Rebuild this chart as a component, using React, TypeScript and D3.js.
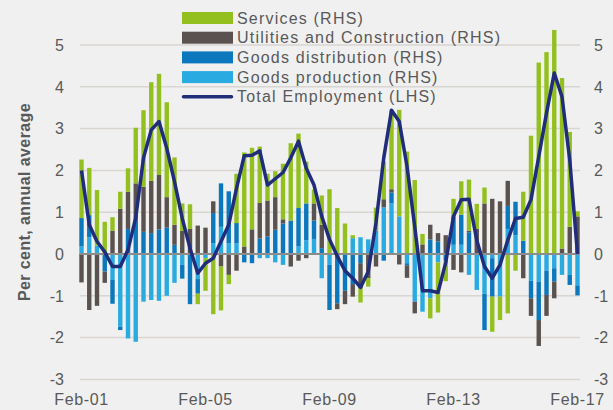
import { useEffect, useRef } from 'react';
import * as d3 from 'd3';

// quarterly, Feb-01 .. Feb-17
const years = d3.range(1, 18);
const months = ['Feb', 'May', 'Aug', 'Nov'];
const quarters: string[] = [];
years.forEach(y => months.forEach(m => quarters.push(`${m}-${String(y).padStart(2, '0')}`)));
quarters.splice(65);

const tickLabels = ['Feb-01', 'Feb-05', 'Feb-09', 'Feb-13', 'Feb-17'];
const yTicks = [-3, -2, -1, 0, 1, 2, 3, 4, 5];

const goodsProduction = [
  0.18, 0.4, 0.2, 0, -0.62, -1.74, -2.02, -2.1, -1.14, -1.1, -1.12, -1.0, -0.69, -0.26, 0, -0.6,
  -0.1, 0.26, 0.65, 0.26, 0.26, 0, 0, -0.1, -0.1, -0.2, -0.26, 0, 0.18, 0.33, 0.36, -0.58,
  -0.26, 0, 0, 0.38, 0.4, 0.35, 0.56, 1.12, 1.21, 0.9, -0.22, -1.14, -1.38, -1.06, -0.2, 0,
  0.22, 0.22, -0.5, -0.86, -0.95, -0.1, -1.02, 0.6, 0.45, 0, -0.64, -0.66, -0.4, -0.34, -0.5, -0.5,
  -0.75
];
const goodsDistribution = [
  0.68, 0.53, 0, -0.42, -0.57, -0.08, 0.6, 0.81, 0.53, 0.5, 0.59, 0.63, 0.22, -0.33, -1.2, -0.35,
  0, 0.72, 1.04, 1.24, 0.48, -0.2, -0.22, 0.37, 0.42, 0.58, 0.73, 0.8, 0.92, 0.88, 0.44, 0.14,
  -1.08, -1.18, -0.88, -0.72, -0.22, 0, 0, -0.16, 0.26, 0, -0.05, 0, 0, 0.35, 0.3, -0.15,
  0.68, 0.72, 0.52, 0, -0.87, -0.92, 0, 0.55, 0.8, 0.32, -0.42, -0.92, -0.58, -0.32, 0, -0.24,
  -0.24
];
const utilities = [
  -0.68, -1.34, -1.24, -0.27, 0.56, 1.08, 0.89, 0.88, 1.08, 1.25, 1.3, 0.73, 0.48, 0.55, 0.6, 0.68,
  0.63, 0.28, -0.3, -0.5, -0.4, 0.18, 0.59, 0.85, 0.86, 0.78, 0.1, -0.3, -0.16, -0.1, 0.41, 0.56,
  0, -0.14, -0.32, -0.3, -0.6, -0.58, -0.3, 0.19, 0.08, -0.25, -0.3, -0.28, 0.23, 0.35, 0.2, 0.45,
  -0.38, -0.44, 0.04, 0.6, 1.21, 1.32, 1.26, 0.6, 0, -0.58, -0.42, -0.62, -0.5, -0.4, 0.13, 0.65,
  0.9
];
const services = [
  1.4, 1.13, 1.33, 0.77, 0.32, 0.41, 0.56, 1.33, 1.83, 2.36, 2.42, 2.27, 1.61, 0.66, 0.59, -0.25,
  -0.78, -1.44, -1.05, -0.22, 1.18, 2.25, 1.95, 1.35, 0.64, 0.62, 1.33, 1.85, 1.78, 1.0, 0.33, 0.7,
  1.55, 1.1, 0.73, 0.07, -0.34, -0.2, 0.55, 0.9, 1.9, 2.55, 2.45, 1.77, 0.25, -0.48, -1.2, -0.5,
  0.42, 0.8, 1.22, 0.6, 0.38, -0.84, -0.56, -1.42, -0.4, 1.17, 2.83, 4.58, 4.83, 5.36, 4.08, 2.27,
  0.12
];
const totalEmployment = [
  2.0, 0.7, 0.3, 0.05, -0.3, -0.3, 0.1, 0.87, 2.3, 2.97, 3.17, 2.53, 1.73, 0.85, 0.14, -0.46,
  -0.22, -0.1, 0.3, 0.7, 1.57, 2.35, 2.36, 2.47, 1.65, 1.8, 1.95, 2.3, 2.7, 2.05, 1.65, 0.9,
  0.35, -0.05, -0.4, -0.58, -0.8, -0.42, 0.75, 2.3, 3.44, 3.17, 2.1, 0.65, -0.88, -0.88, -0.92, -0.2,
  0.9, 1.3, 1.31, 0.33, -0.3, -0.58, -0.26, 0.33, 0.85, 0.88, 1.3, 2.33, 3.37, 4.33, 3.76, 2.25,
  0
];

const seriesKeys = ['gp', 'gd', 'ut', 'sv'];
const seriesColors: Record<string, string> = {
  gp: '#29abe2',
  gd: '#0b77bd',
  ut: '#59524e',
  sv: '#93c01f'
};
const legendItems = [
  { label: 'Services (RHS)', key: 'sv' },
  { label: 'Utilities and Construction (RHS)', key: 'ut' },
  { label: 'Goods distribution (RHS)', key: 'gd' },
  { label: 'Goods production (RHS)', key: 'gp' },
  { label: 'Total Employment (LHS)', key: 'line' }
];

const W = 613;
const H = 410;
const LINE_COLOR = '#1f2d7b';
const TEXT = '#595959';
const FONT = '"Liberation Sans", Arial, sans-serif';

export default function App() {
  const svgRef = useRef<SVGSVGElement>(null);

  useEffect(() => {
    if (!svgRef.current) return;
    const svg = d3.select(svgRef.current);
    svg.selectAll('*').remove();

    svg.append('rect').attr('width', W).attr('height', H).attr('fill', '#f0f0f0');

    const x = d3.scalePoint<string>().domain(quarters).range([81.5, 577.5]);
    const y = d3.scaleLinear().domain([-3, 5]).range([379.4, 45]);
    const barW = 4.4;

    // gridlines
    svg.append('g')
      .selectAll('line')
      .data(yTicks.filter(t => t !== 0))
      .enter().append('line')
      .attr('x1', 80).attr('x2', 580)
      .attr('y1', d => y(d)).attr('y2', d => y(d))
      .attr('stroke', '#d9d5d1')
      .attr('stroke-width', 1.5);

    const rows = quarters.map((q, i) => ({
      q,
      gp: goodsProduction[i],
      gd: goodsDistribution[i],
      ut: utilities[i],
      sv: services[i]
    }));

    const stacked = d3.stack<any>()
      .keys(seriesKeys)
      .offset(d3.stackOffsetDiverging)(rows);

    svg.append('g')
      .selectAll('g')
      .data(stacked)
      .enter().append('g')
      .attr('fill', d => seriesColors[d.key])
      .selectAll('rect')
      .data(d => d)
      .enter().append('rect')
      .attr('x', d => (x(d.data.q) as number) - barW / 2)
      .attr('width', barW)
      .attr('y', d => y(Math.max(d[0], d[1])))
      .attr('height', d => Math.abs(y(d[0]) - y(d[1])));

    // zero line
    svg.append('line')
      .attr('x1', 80).attr('x2', 580)
      .attr('y1', y(0)).attr('y2', y(0))
      .attr('stroke', '#8c8c8c')
      .attr('stroke-width', 2);

    // total employment
    const line = d3.line<number>()
      .x((d, i) => x(quarters[i]) as number)
      .y(d => y(d));
    svg.append('path')
      .datum(totalEmployment)
      .attr('d', line)
      .attr('fill', 'none')
      .attr('stroke', LINE_COLOR)
      .attr('stroke-width', 3.5)
      .attr('stroke-linejoin', 'round');

    // y tick labels, both sides
    const ticks = svg.append('g')
      .style('font-family', FONT)
      .style('font-size', '16px')
      .attr('fill', TEXT);
    ticks.selectAll('.yl')
      .data(yTicks)
      .enter().append('text')
      .attr('x', 64)
      .attr('y', d => y(d))
      .attr('dy', '0.36em')
      .attr('text-anchor', 'end')
      .text(d => d);
    ticks.selectAll('.yr')
      .data(yTicks)
      .enter().append('text')
      .attr('x', 594)
      .attr('y', d => y(d))
      .attr('dy', '0.36em')
      .attr('text-anchor', 'start')
      .text(d => d);

    // x tick labels
    ticks.selectAll('.xl')
      .data(tickLabels)
      .enter().append('text')
      .attr('x', d => x(d) as number)
      .attr('y', 405)
      .attr('text-anchor', 'middle')
      .style('letter-spacing', '0.6px')
      .text(d => d);

    // axis title
    svg.append('text')
      .attr('transform', 'translate(30,202) rotate(-90)')
      .attr('text-anchor', 'middle')
      .style('font-family', FONT)
      .style('font-size', '16px')
      .style('font-weight', 'bold')
      .style('letter-spacing', '0.4px')
      .attr('fill', TEXT)
      .text('Per cent, annual average');

    // legend
    const legend = svg.append('g').attr('transform', 'translate(182,18)');
    const li = legend.selectAll('g')
      .data(legendItems)
      .enter().append('g')
      .attr('transform', (d, i) => `translate(0,${i * 19.7})`);
    li.filter(d => d.key !== 'line')
      .append('rect')
      .attr('x', 0).attr('y', -6)
      .attr('width', 51).attr('height', 12)
      .attr('fill', d => seriesColors[d.key]);
    li.filter(d => d.key === 'line')
      .append('line')
      .attr('x1', 1.5).attr('x2', 49.5)
      .attr('stroke', LINE_COLOR)
      .attr('stroke-width', 3.5)
      .attr('stroke-linecap', 'round');
    li.append('text')
      .attr('x', 55)
      .attr('y', 5.5)
      .style('font-family', FONT)
      .style('font-size', '16px')
      .style('letter-spacing', '1.2px')
      .attr('fill', TEXT)
      .text(d => d.label);
  }, []);

  return (
    <svg
      ref={svgRef}
      width={W}
      height={H}
      style={{ position: 'absolute', left: 0, top: 0, display: 'block' }}
    />
  );
}
